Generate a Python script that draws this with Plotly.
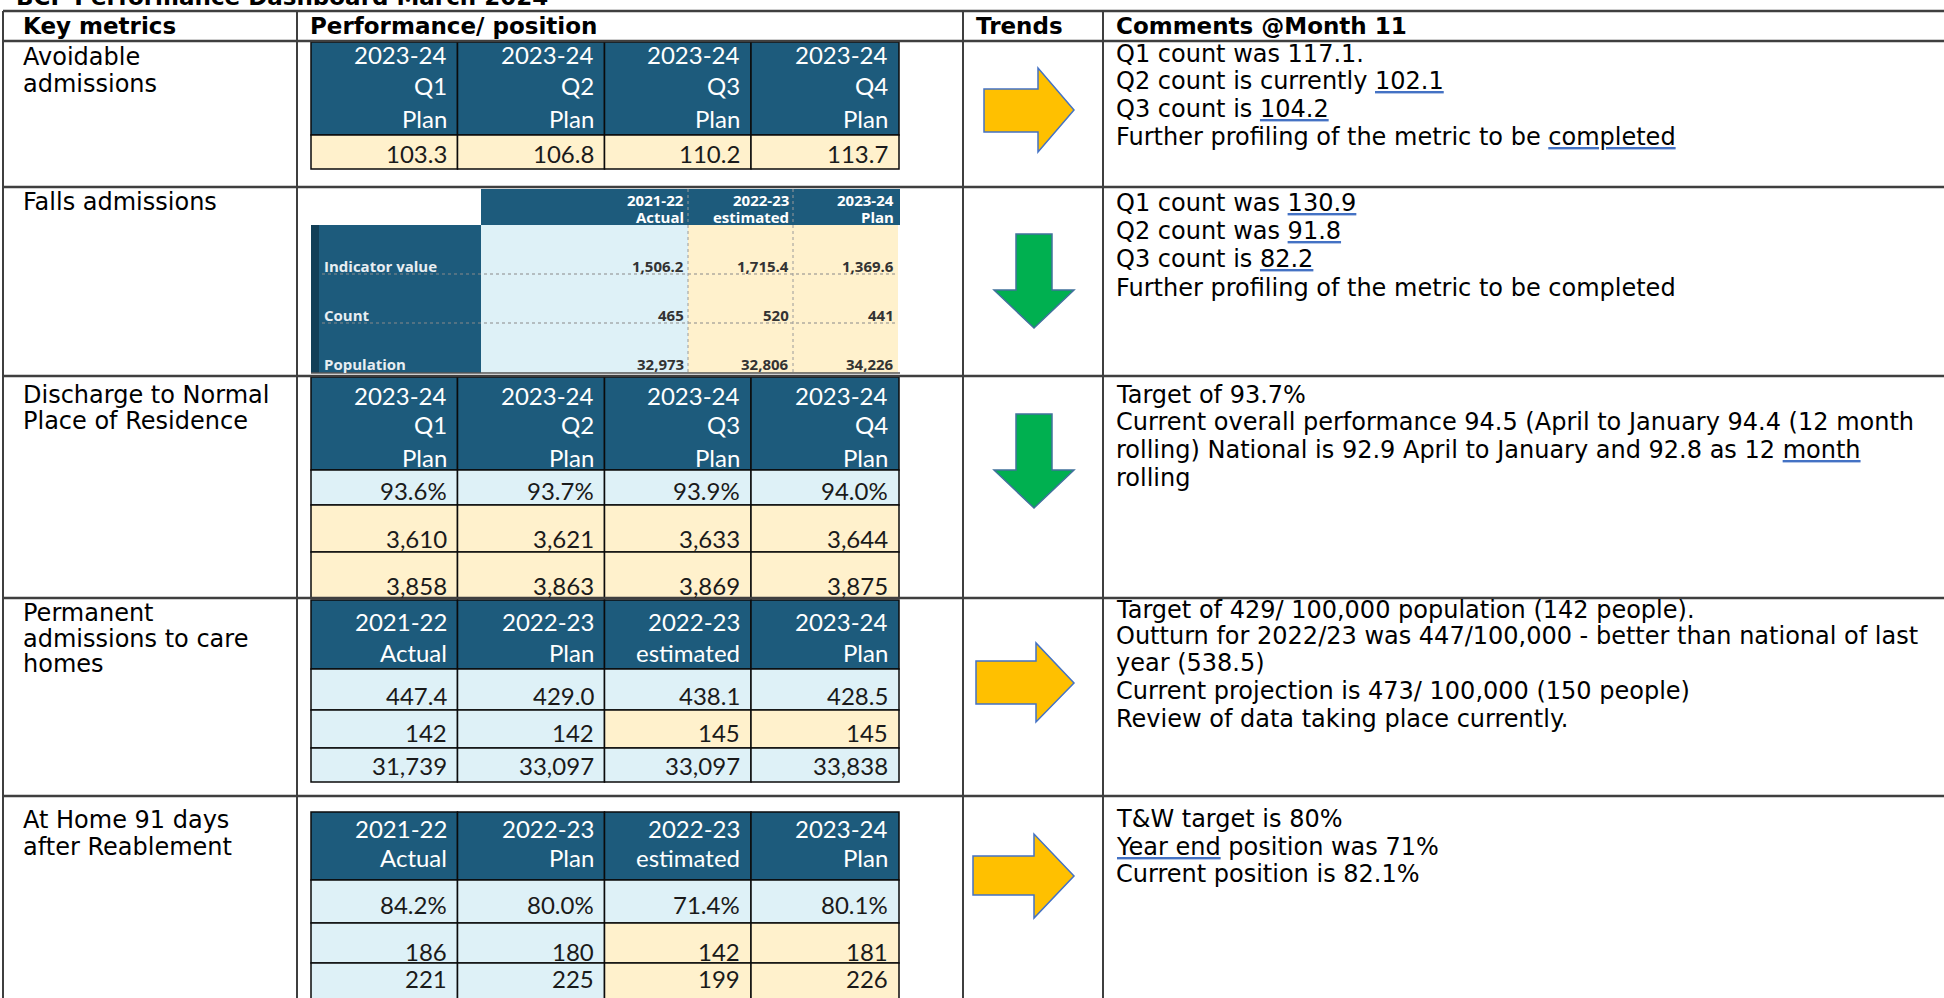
import plotly.graph_objects as go

# ---------------- data ----------------
title = "BCF Performance Dashboard March 2024"
headers = ["Key metrics", "Performance/ position", "Trends", "Comments @Month 11"]

metric_labels = [
    ["Avoidable", "admissions"],
    ["Falls admissions"],
    ["Discharge to Normal", "Place of Residence"],
    ["Permanent", "admissions to care", "homes"],
    ["At Home 91 days", "after Reablement"],
]

trends = ["right", "down", "down", "right", "right"]

comments = [
    ["Q1 count was 117.1.", "Q2 count is currently [102.1]", "Q3 count is [104.2]",
     "Further profiling of the metric to be [completed]"],
    ["Q1 count was [130.9]", "Q2 count was [91.8]", "Q3 count is [82.2]",
     "Further profiling of the metric to be completed"],
    ["Target of 93.7%",
     "Current overall performance 94.5 (April to January 94.4 (12 month",
     "rolling) National is 92.9 April to January and 92.8 as 12 [month]",
     "rolling"],
    ["Target of 429/ 100,000 population (142 people).",
     "Outturn for 2022/23 was 447/100,000 - better than national of last",
     "year (538.5)",
     "Current projection is 473/ 100,000 (150 people)",
     "Review of data taking place currently."],
    ["T&W target is 80%", "[Year end] position was 71%", "Current position is 82.1%"],
]

# Avoidable admissions (2023-24 quarterly plan)
avoid_years = ["2023-24", "2023-24", "2023-24", "2023-24"]
avoid_quarters = ["Q1", "Q2", "Q3", "Q4"]
avoid_kind = ["Plan", "Plan", "Plan", "Plan"]
avoid_values = [103.3, 106.8, 110.2, 113.7]

# Falls admissions
falls_years = ["2021-22", "2022-23", "2023-24"]
falls_kind = ["Actual", "estimated", "Plan"]
falls_rows = ["Indicator value", "Count", "Population"]
falls_indicator = [1506.2, 1715.4, 1369.6]
falls_count = [465, 520, 441]
falls_population = [32973, 32806, 34226]

# Discharge to normal place of residence
disch_years = ["2023-24", "2023-24", "2023-24", "2023-24"]
disch_quarters = ["Q1", "Q2", "Q3", "Q4"]
disch_kind = ["Plan", "Plan", "Plan", "Plan"]
disch_pct = [93.6, 93.7, 93.9, 94.0]
disch_num = [3610, 3621, 3633, 3644]
disch_den = [3858, 3863, 3869, 3875]

# Permanent admissions to care homes
care_years = ["2021-22", "2022-23", "2022-23", "2023-24"]
care_kind = ["Actual", "Plan", "estimated", "Plan"]
care_rate = [447.4, 429.0, 438.1, 428.5]
care_count = [142, 142, 145, 145]
care_pop = [31739, 33097, 33097, 33838]

# At home 91 days after reablement
home_years = ["2021-22", "2022-23", "2022-23", "2023-24"]
home_kind = ["Actual", "Plan", "estimated", "Plan"]
home_pct = [84.2, 80.0, 71.4, 80.1]
home_count = [186, 180, 142, 181]
home_total = [221, 225, 199, 226]

# ---------------- style / layout constants ----------------
W, H = 1944, 998
DARK = "#1D5B7C"
DARKER = "#123F57"
LBLUE = "#DEF1F7"
LYEL = "#FFF1CC"
GRID = "#3F3F3F"
BODY_FONT = "DejaVu Sans"
NUM_FONT = "Lato"
FALLS_FONT = "Open Sans"

shapes, annos = [], []


def rect(x0, y0, x1, y1, fill, lc=None, lw=0):
    shapes.append(dict(type="rect", xref="x", yref="y", x0=x0, y0=y0, x1=x1, y1=y1,
                       fillcolor=fill, line=dict(color=lc or fill, width=lw), layer="below"))


def line(x0, y0, x1, y1, color, w, dash="solid"):
    shapes.append(dict(type="line", xref="x", yref="y", x0=x0, y0=y0, x1=x1, y1=y1,
                       line=dict(color=color, width=w, dash=dash)))


def text(x, y, s, size, font=BODY_FONT, color="#000000", anchor="left", bold=False, yanchor="middle"):
    annos.append(dict(x=x, y=y, xref="x", yref="y", text=(f"<b>{s}</b>" if bold else s),
                      showarrow=False, xanchor=anchor, yanchor=yanchor, align=anchor,
                      borderpad=0, font=dict(family=font, size=size, color=color)))


def fmt_ul(s):
    return (s.replace("[", '<span style="color:#4472C4;text-decoration:underline double">'
                           '<span style="color:#000000">')
             .replace("]", "</span></span>"))


# ---------------- main grid ----------------
COLS = [3, 297, 963, 1103]
ROWS = [11, 41, 187, 376, 598, 796]
for yv in ROWS:
    line(COLS[0], yv, W, yv, GRID, 2.5)
for xv in COLS:
    line(xv, ROWS[0], xv, H + 5, GRID, 2)

# title (cut at the top edge)
text(15, 11, title, 23, bold=True, yanchor="bottom")

header_x = [22, 309, 975, 1115]
for hx, h in zip(header_x, headers):
    text(hx, 26, h, 23, bold=True)

metric_ys = [[57, 84], [202], [395, 421], [613, 639, 664], [820, 847]]
for labels, ys in zip(metric_labels, metric_ys):
    for lab, yv in zip(labels, ys):
        text(22, yv, lab, 24)

comment_ys = [[54, 81, 109, 137], [203, 231, 259, 288], [395, 422, 450, 478],
              [610, 636, 663, 691, 719], [819, 847, 874]]
for lines_, ys in zip(comments, comment_ys):
    for ln, yv in zip(lines_, ys):
        text(1115, yv, fmt_ul(ln), 24)

# ---------------- trend arrows ----------------
right_geom = {0: (984, 89, 132, 1038, 68, 152, 1074, 110),
              3: (976, 661, 704, 1036, 643, 722, 1074, 683),
              4: (973, 856, 895, 1034, 834, 918, 1074, 876)}
down_geom = {1: (1034, 18, 40, 234, 290, 328),
             2: (1034, 18, 40, 414, 470, 508)}
for i, t in enumerate(trends):
    if t == "right":
        l, st, sb, hb, ht, hbot, tx, ty = right_geom[i]
        path = (f"M {l},{st} L {hb},{st} L {hb},{ht} L {tx},{ty} L {hb},{hbot} "
                f"L {hb},{sb} L {l},{sb} Z")
        shapes.append(dict(type="path", xref="x", yref="y", path=path,
                           fillcolor="#FFC000", line=dict(color="#4472C4", width=1.5)))
    else:
        cx, sw, hw, top, base, tip = down_geom[i]
        path = (f"M {cx - sw},{top} L {cx + sw},{top} L {cx + sw},{base} L {cx + hw},{base} "
                f"L {cx},{tip} L {cx - hw},{base} L {cx - sw},{base} Z")
        shapes.append(dict(type="path", xref="x", yref="y", path=path,
                           fillcolor="#00B050", line=dict(color="#41719C", width=1.5)))

# ---------------- bordered tables ----------------
TX = [311, 457.5, 604.5, 751, 899]


def grid_table(header_box, header_lines, header_ys, row_edges, rows, value_ys, fills):
    y0, y1 = header_box
    for c in range(4):
        rect(TX[c], y0, TX[c + 1], y1, DARK, "#0B0B0B", 1.5)
        for ln, yv in zip(header_lines, header_ys):
            text(TX[c + 1] - 10, yv, ln[c], 24, font=NUM_FONT, color="#FFFFFF", anchor="right")
    for r, (ra, rb) in enumerate(row_edges):
        for c in range(4):
            rect(TX[c], ra, TX[c + 1], rb, fills[r][c], "#0B0B0B", 1.5)
            text(TX[c + 1] - 10, value_ys[r], rows[r][c], 24, font=NUM_FONT,
                 color="#1A1A1A", anchor="right")


B, Y = LBLUE, LYEL

grid_table((42, 135), [avoid_years, avoid_quarters, avoid_kind], [54, 85, 118],
           [(135, 169)], [[f"{v:.1f}" for v in avoid_values]], [153], [[Y, Y, Y, Y]])

grid_table((377, 470), [disch_years, disch_quarters, disch_kind], [395, 424, 457],
           [(470, 505), (505, 552), (552, 598)],
           [[f"{v:.1f}%" for v in disch_pct], [f"{v:,}" for v in disch_num],
            [f"{v:,}" for v in disch_den]],
           [490, 538, 585], [[B] * 4, [Y] * 4, [Y] * 4])

grid_table((600, 669), [care_years, care_kind], [621, 652],
           [(669, 710), (710, 748), (748, 782)],
           [[f"{v:.1f}" for v in care_rate], [f"{v:,}" for v in care_count],
            [f"{v:,}" for v in care_pop]],
           [695, 732, 765], [[B] * 4, [B, B, Y, Y], [B] * 4])

grid_table((812, 880), [home_years, home_kind], [828, 857],
           [(880, 923), (923, 963), (963, 1012)],
           [[f"{v:.1f}%" for v in home_pct], [f"{v:,}" for v in home_count],
            [f"{v:,}" for v in home_total]],
           [904, 951, 978], [[B] * 4, [B, B, Y, Y], [B, B, Y, Y]])

# ---------------- falls table (pasted Excel view) ----------------
FX = [481, 688, 793, 898]
rect(481, 189, 900, 225, DARK)
rect(311, 225, 481, 373, DARK)
rect(311, 225, 319, 373, DARKER)
rect(FX[0], 225, FX[1], 373, LBLUE)
rect(FX[1], 225, FX[2], 373, LYEL)
rect(FX[2], 225, FX[3], 373, LYEL)
for yv in (274, 323):
    line(322, yv, 898, yv, "#8A8A8A", 1.2, "dot")
line(311, 373, 900, 373, "#555555", 1.5)
for xv in (FX[1], FX[2]):
    line(xv, 189, xv, 373, "#9A9A9A", 1, "dot")
for c in range(3):
    text(FX[c + 1] - 3, 200, falls_years[c], 15, font=FALLS_FONT, color="#FFFFFF", anchor="right", bold=True)
    text(FX[c + 1] - 3, 217, falls_kind[c], 15, font=FALLS_FONT, color="#FFFFFF", anchor="right", bold=True)
falls_vals = [[f"{v:,.1f}" for v in falls_indicator], [f"{v:,}" for v in falls_count],
              [f"{v:,}" for v in falls_population]]
for r, yv in enumerate([266, 315, 364]):
    text(323, yv, falls_rows[r], 15, font=FALLS_FONT, color="#E8EEF2", bold=True)
    for c in range(3):
        text(FX[c + 1] - 3, yv, falls_vals[r][c], 15, font=FALLS_FONT, color="#333333",
             anchor="right", bold=True)

# ---------------- figure ----------------
fig = go.Figure(go.Scatter(x=[], y=[], mode="markers", showlegend=False))
fig.update_layout(
    width=W, height=H, margin=dict(l=0, r=0, t=0, b=0),
    paper_bgcolor="#FFFFFF", plot_bgcolor="#FFFFFF",
    xaxis=dict(range=[0, W], visible=False, fixedrange=True),
    yaxis=dict(range=[H, 0], visible=False, fixedrange=True),
    shapes=shapes, annotations=annos, showlegend=False,
)
fig.write_html("out.html", config={"displayModeBar": False},
               post_script="document.body.style.margin='0px';document.body.style.overflow='hidden';")
